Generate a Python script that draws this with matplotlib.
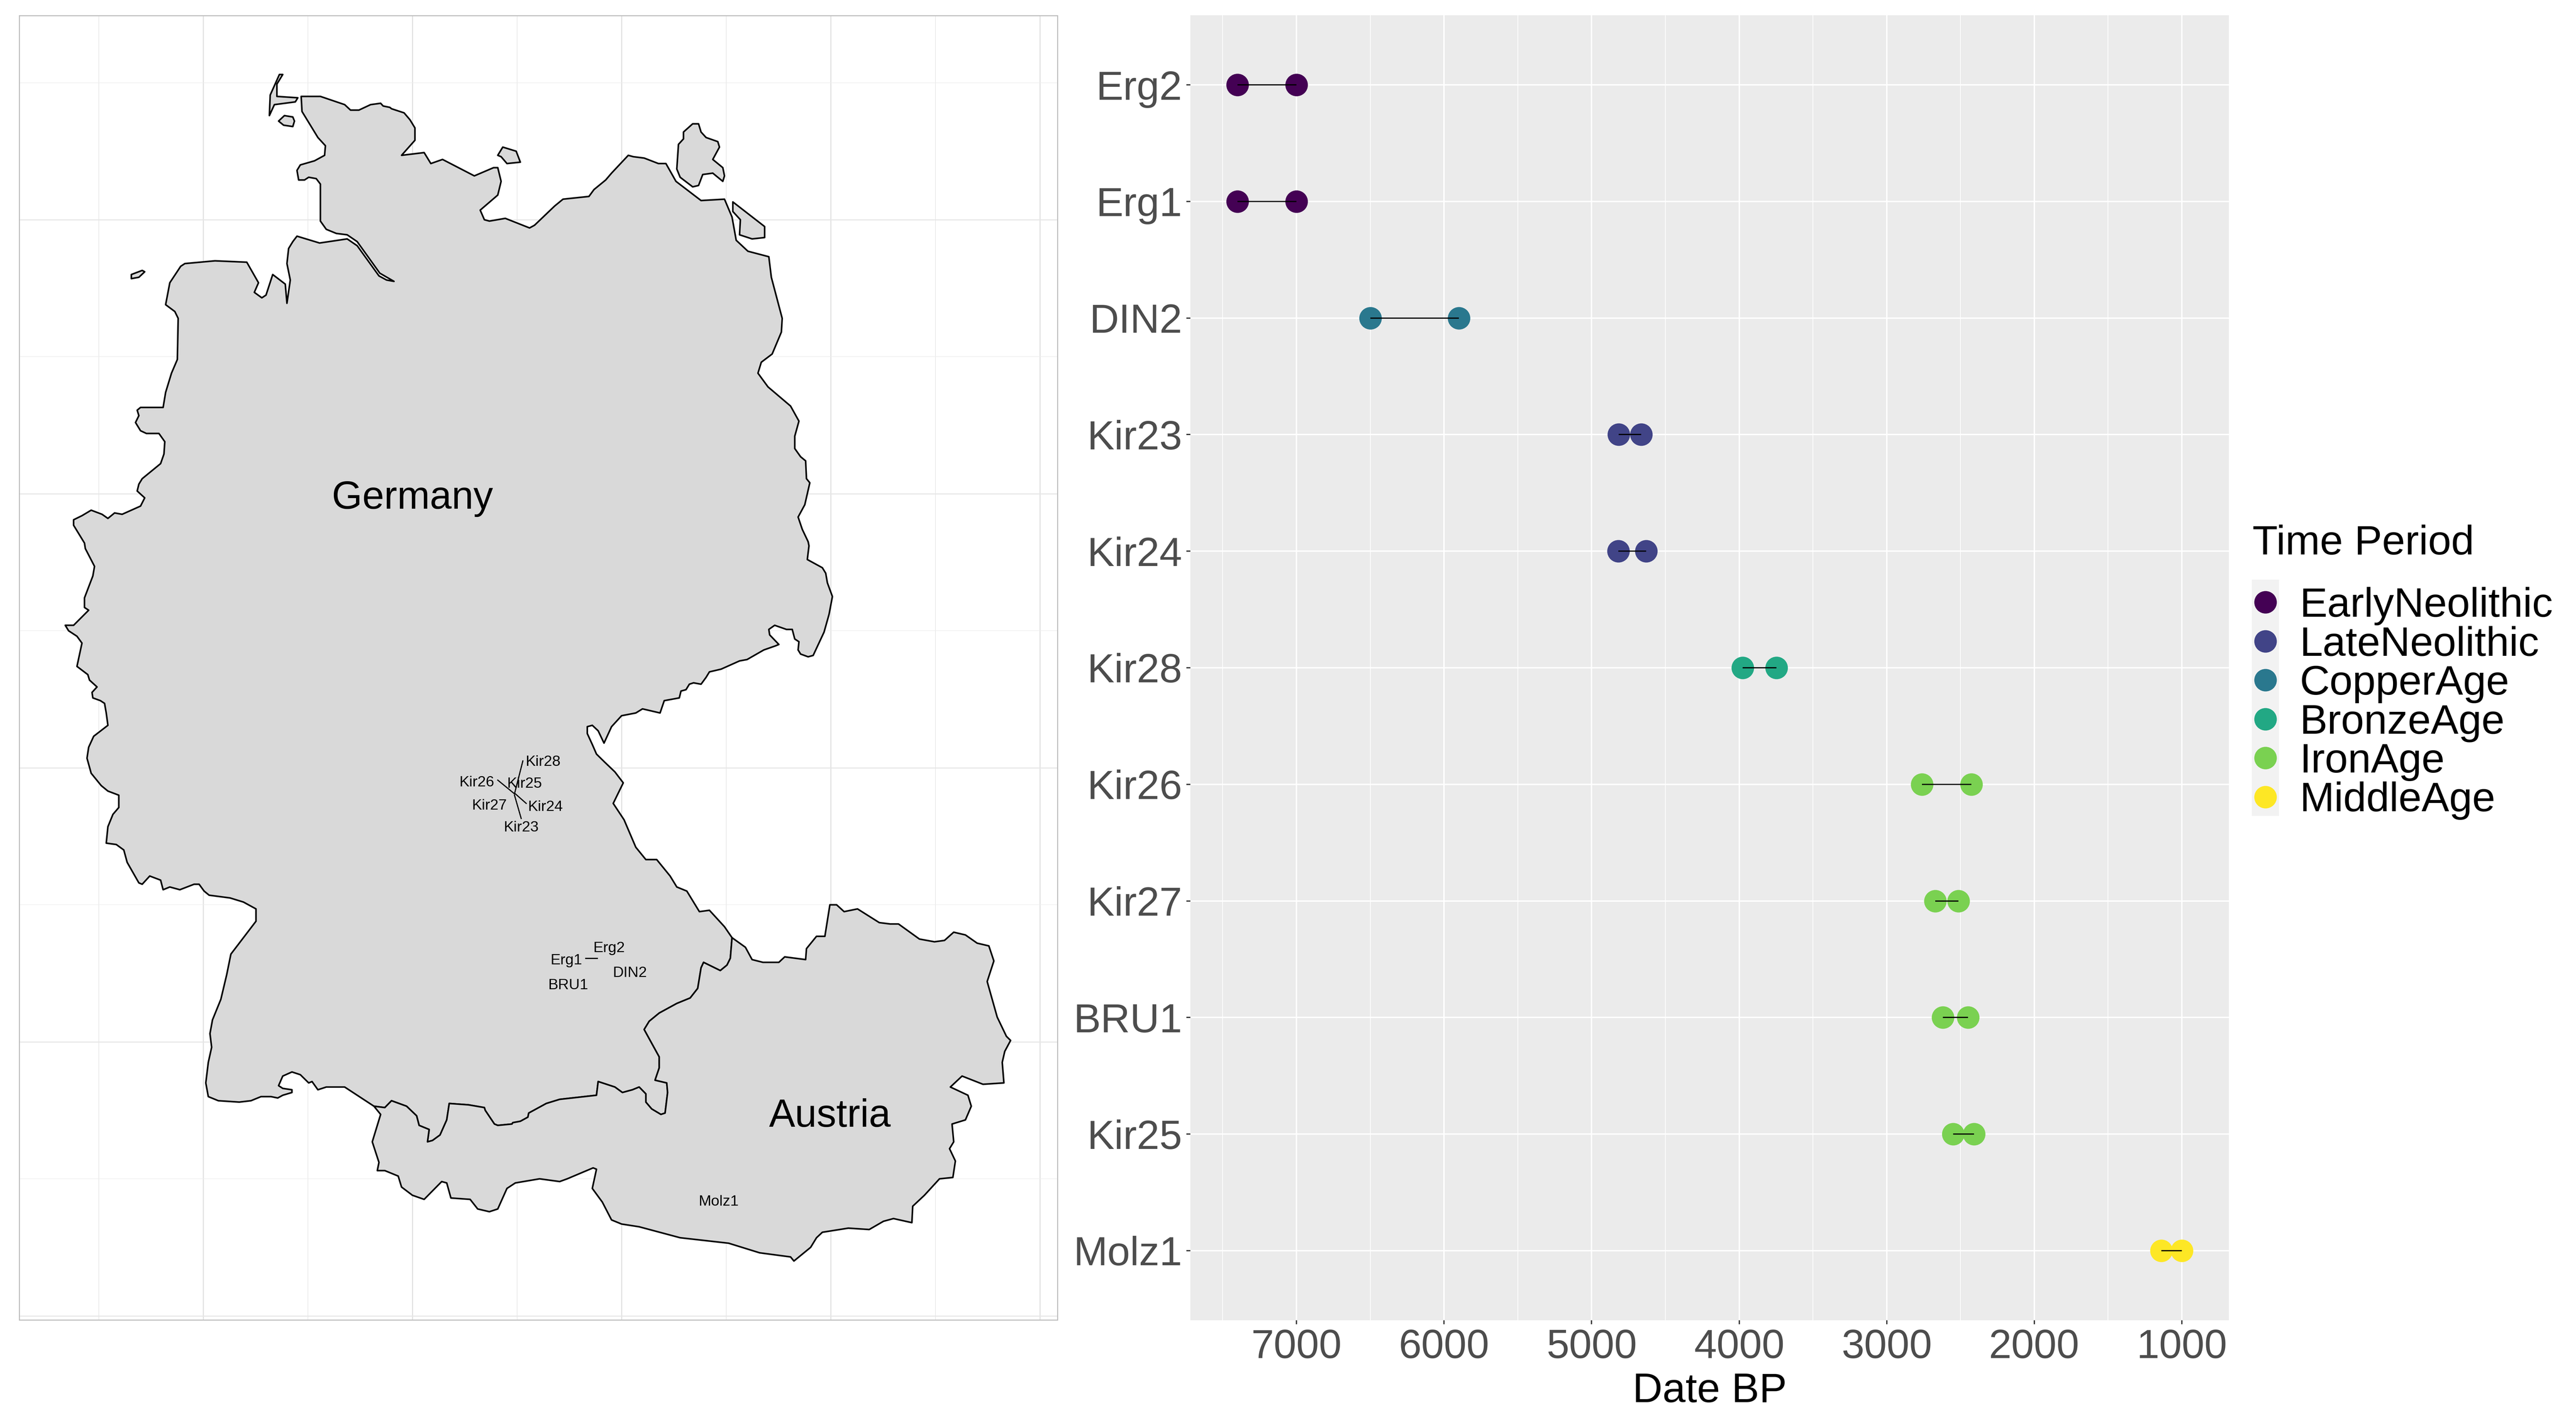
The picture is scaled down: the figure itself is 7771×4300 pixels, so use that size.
import matplotlib
matplotlib.use("Agg")
import matplotlib.pyplot as plt
from matplotlib.lines import Line2D
from matplotlib.patches import Rectangle

plt.rcParams["font.family"] = ["Liberation Sans", "DejaVu Sans"]

W = 7771
H = 4300
DPI = 300

# dating ranges, top row first
samples = ["Erg2", "Erg1", "DIN2", "Kir23", "Kir24", "Kir28", "Kir26", "Kir27", "BRU1", "Kir25", "Molz1"]
date_old = [7400, 7400, 6500, 4817, 4820, 3976, 2761, 2672, 2619, 2551, 1139]
date_young = [7000, 7000, 5900, 4665, 4631, 3748, 2427, 2513, 2450, 2409, 1000]
sample_period = ["EarlyNeolithic", "EarlyNeolithic", "CopperAge", "LateNeolithic", "LateNeolithic", "BronzeAge",
	"IronAge", "IronAge", "IronAge", "IronAge", "MiddleAge"]

periods = ["EarlyNeolithic", "LateNeolithic", "CopperAge", "BronzeAge", "IronAge", "MiddleAge"]
period_colors = ["#440154", "#414487", "#2A788E", "#22A884", "#7AD151", "#FDE725"]

date_ticks = [7000, 6000, 5000, 4000, 3000, 2000, 1000]
date_minor = [7500, 6500, 5500, 4500, 3500, 2500, 1500]

# site labels on the map: name, lon, lat
label_names = ["Kir28", "Kir25", "Kir26", "Kir27", "Kir24", "Kir23", "Erg2", "Erg1", "DIN2", "BRU1", "Molz1"]
label_lon = [11.56, 11.34, 10.77, 10.92, 11.59, 11.30, 12.35, 11.84, 12.60, 11.86, 13.66]
label_lat = [50.042, 49.882, 49.892, 49.722, 49.712, 49.562, 48.682, 48.592, 48.502, 48.412, 46.832]

# repel segments as lon1, lat1, lon2, lat2
site_links = [
	(11.32, 50.05, 11.22, 49.81),
	(11.02, 49.91, 11.22, 49.81),
	(11.36, 49.74, 11.23, 49.81),
	(11.30, 49.63, 11.22, 49.80),
	(12.07, 48.61, 12.21, 48.61),
]

map_major_lon = [7.5, 10, 12.5, 15, 17.5]
map_minor_lon = [6.25, 8.75, 11.25, 13.75, 16.25]
map_major_lat = [46, 48, 50, 52, 54]
map_minor_lat = [47, 49, 51, 53, 55]

# outlines as lon, lat
ger_north_east = [
	(8.67, 54.90), (8.90, 54.90), (9.19, 54.84), (9.26, 54.80), (9.36, 54.80), (9.50, 54.84), (9.62, 54.85),
	(9.65, 54.83), (9.73, 54.82), (9.75, 54.81), (9.90, 54.78), (9.97, 54.73), (10.03, 54.67), (10.03, 54.58),
	(9.87, 54.47), (10.14, 54.49), (10.22, 54.41), (10.36, 54.44), (10.74, 54.32), (10.97, 54.38), (11.02, 54.38),
	(11.06, 54.28), (11.02, 54.18), (10.81, 54.07), (10.86, 54.00), (10.92, 53.99), (11.11, 54.01), (11.40, 53.94),
	(11.46, 53.96), (11.70, 54.10), (11.80, 54.15), (12.11, 54.17), (12.17, 54.22), (12.31, 54.29), (12.38, 54.34),
	(12.58, 54.47), (12.64, 54.46), (12.77, 54.45), (12.94, 54.41), (13.03, 54.41), (13.15, 54.28), (13.45, 54.14),
	(13.73, 54.15), (13.82, 54.02), (13.87, 53.85), (14.01, 53.77), (14.26, 53.73), (14.29, 53.58), (14.42, 53.28),
	(14.41, 53.18), (14.30, 53.02), (14.17, 52.96), (14.13, 52.88), (14.25, 52.78), (14.52, 52.64), (14.62, 52.53),
	(14.57, 52.42), (14.57, 52.33), (14.64, 52.27), (14.70, 52.24), (14.71, 52.11), (14.75, 52.08), (14.69, 51.92),
	(14.61, 51.83), (14.66, 51.74), (14.73, 51.65), (14.74, 51.62), (14.72, 51.52), (14.90, 51.46), (14.94, 51.42),
	(14.96, 51.35), (15.02, 51.25), (14.98, 51.12), (14.92, 50.99), (14.79, 50.82), (14.73, 50.81), (14.64, 50.83),
	(14.61, 50.86), (14.62, 50.92), (14.57, 50.94), (14.54, 51.01), (14.47, 51.01), (14.33, 51.04), (14.26, 51.01),
	(14.27, 50.97), (14.38, 50.90), (14.34, 50.89), (14.20, 50.86), (14.00, 50.79), (13.91, 50.78), (13.69, 50.72),
	(13.55, 50.70), (13.51, 50.66), (13.45, 50.61), (13.36, 50.62), (13.31, 50.61), (13.27, 50.57), (13.21, 50.56),
	(13.19, 50.51), (13.01, 50.49), (12.96, 50.40), (12.75, 50.43), (12.67, 50.40), (12.50, 50.38), (12.38, 50.30),
	(12.29, 50.18), (12.22, 50.27), (12.15, 50.31), (12.09, 50.30), (12.09, 50.25), (12.15, 50.17), (12.20, 50.10),
	(12.30, 50.04), (12.42, 49.97), (12.52, 49.89), (12.40, 49.74), (12.53, 49.62), (12.67, 49.42), (12.79, 49.33),
	(12.92, 49.33), (13.08, 49.21), (13.16, 49.13), (13.28, 49.10), (13.43, 48.95), (13.55, 48.96), (13.73, 48.84),
	(13.82, 48.76),
]

ger_aut_border = [
	(13.80, 48.61), (13.76, 48.56), (13.68, 48.52), (13.48, 48.58), (13.45, 48.54), (13.41, 48.39), (13.32, 48.32),
	(13.16, 48.28), (12.95, 48.21), (12.83, 48.15), (12.77, 48.09), (12.95, 47.89), (12.95, 47.81), (12.90, 47.72),
	(13.04, 47.70), (13.05, 47.63), (13.02, 47.48), (12.97, 47.47), (12.86, 47.51), (12.79, 47.56), (12.79, 47.62),
	(12.71, 47.67), (12.63, 47.65), (12.51, 47.63), (12.42, 47.67), (12.22, 47.71), (12.20, 47.61), (11.76, 47.58),
	(11.60, 47.55), (11.39, 47.48), (11.38, 47.45), (11.29, 47.42), (11.20, 47.41), (11.19, 47.40), (11.02, 47.39),
	(10.98, 47.40), (10.87, 47.50), (10.86, 47.52), (10.67, 47.54), (10.44, 47.55), (10.41, 47.43), (10.33, 47.32),
	(10.24, 47.28), (10.18, 47.27), (10.20, 47.36), (10.08, 47.39), (10.05, 47.46), (9.93, 47.53), (9.75, 47.57),
	(9.67, 47.52), (9.54, 47.53),
]

ger_south_west = [
	(9.19, 47.67), (8.97, 47.67), (8.87, 47.65), (8.80, 47.71), (8.76, 47.70), (8.66, 47.76), (8.56, 47.78),
	(8.45, 47.75), (8.40, 47.68), (8.45, 47.66), (8.56, 47.65), (8.56, 47.63), (8.45, 47.61), (8.39, 47.59),
	(8.31, 47.60), (8.19, 47.60), (8.07, 47.57), (7.93, 47.56), (7.68, 47.57), (7.56, 47.60), (7.53, 47.70),
	(7.56, 47.85), (7.60, 47.96), (7.58, 48.06), (7.61, 48.16), (7.71, 48.31), (7.78, 48.49), (7.83, 48.64),
	(8.13, 48.88), (8.13, 48.97), (7.98, 49.02), (7.82, 49.05), (7.57, 49.07), (7.51, 49.10), (7.45, 49.15),
	(7.39, 49.15), (7.22, 49.11), (7.10, 49.13), (7.02, 49.11), (6.99, 49.18), (6.86, 49.21), (6.77, 49.15),
	(6.73, 49.16), (6.59, 49.31), (6.55, 49.40), (6.46, 49.44), (6.34, 49.45), (6.36, 49.57), (6.42, 49.66),
	(6.49, 49.71), (6.49, 49.80), (6.36, 49.83), (6.28, 49.87), (6.16, 49.96), (6.11, 50.07), (6.13, 50.15),
	(6.19, 50.23), (6.36, 50.31), (6.34, 50.40), (6.32, 50.47), (6.27, 50.49), (6.18, 50.51), (6.17, 50.55),
	(6.23, 50.59), (6.14, 50.64), (6.12, 50.68), (5.99, 50.74), (6.05, 50.91), (5.99, 50.96), (5.89, 51.00),
	(5.85, 51.04), (5.95, 51.04), (6.13, 51.15), (6.08, 51.17), (6.08, 51.24), (6.18, 51.40), (6.20, 51.47),
	(6.09, 51.60), (6.08, 51.64), (5.95, 51.77), (5.95, 51.81), (6.05, 51.84), (6.16, 51.88), (6.29, 51.85),
	(6.36, 51.82), (6.44, 51.86), (6.53, 51.85), (6.75, 51.91), (6.80, 51.97), (6.71, 52.02), (6.73, 52.07),
	(6.77, 52.11), (6.99, 52.22), (7.03, 52.29), (7.04, 52.38), (6.97, 52.44), (6.82, 52.44), (6.75, 52.46),
	(6.69, 52.52), (6.73, 52.57), (6.71, 52.61), (6.75, 52.63), (7.02, 52.63), (7.05, 52.74), (7.12, 52.88),
	(7.19, 52.98), (7.20, 53.28), (7.16, 53.33), (7.05, 53.38), (7.10, 53.54), (7.23, 53.66), (7.28, 53.68),
	(7.64, 53.70), (8.02, 53.69), (8.16, 53.54), (8.11, 53.47), (8.20, 53.43), (8.25, 53.45), (8.33, 53.60),
	(8.48, 53.53), (8.50, 53.39), (8.54, 53.56), (8.50, 53.68), (8.52, 53.79), (8.57, 53.84), (8.62, 53.88),
	(8.89, 53.83), (9.22, 53.86), (9.34, 53.81), (9.60, 53.59), (9.69, 53.56), (9.78, 53.55), (9.61, 53.61),
	(9.34, 53.84), (9.22, 53.89), (9.09, 53.90), (8.97, 53.93), (8.90, 53.99), (8.90, 54.26), (8.85, 54.30),
	(8.76, 54.31), (8.71, 54.29), (8.64, 54.29), (8.62, 54.36), (8.66, 54.40), (8.83, 54.43), (8.95, 54.47),
	(8.96, 54.54), (8.87, 54.60), (8.76, 54.71), (8.68, 54.79),
]

aut_rim = [
	(13.98, 48.69), (14.06, 48.60), (14.19, 48.58), (14.38, 48.58), (14.45, 48.62), (14.70, 48.60), (14.71, 48.68),
	(14.83, 48.77), (14.93, 48.77), (14.99, 49.00), (15.07, 49.00), (15.16, 48.95), (15.32, 48.97), (15.58, 48.87),
	(15.71, 48.86), (15.81, 48.86), (16.06, 48.75), (16.24, 48.73), (16.36, 48.74), (16.47, 48.80), (16.61, 48.78),
	(16.75, 48.72), (16.89, 48.70), (16.95, 48.59), (16.87, 48.44), (16.99, 48.18), (17.10, 48.04), (17.15, 48.01),
	(17.08, 47.93), (17.05, 47.85), (17.07, 47.70), (16.82, 47.69), (16.57, 47.75), (16.43, 47.67), (16.64, 47.61),
	(16.68, 47.53), (16.61, 47.43), (16.45, 47.40), (16.47, 47.27), (16.42, 47.22), (16.49, 47.13), (16.46, 47.01),
	(16.30, 47.00), (16.12, 46.88), (15.98, 46.80), (15.97, 46.68), (15.75, 46.71), (15.63, 46.69), (15.46, 46.63),
	(15.21, 46.64), (14.90, 46.61), (14.83, 46.57), (14.76, 46.50), (14.56, 46.40), (14.52, 46.43), (14.15, 46.46),
	(13.78, 46.53), (13.49, 46.55), (13.20, 46.57), (12.71, 46.65), (12.50, 46.67), (12.38, 46.70), (12.27, 46.83),
	(12.15, 46.93), (12.20, 47.07), (12.16, 47.08), (11.85, 47.00), (11.76, 46.98), (11.52, 47.00), (11.23, 46.97),
	(11.13, 46.93), (11.02, 46.78), (10.92, 46.76), (10.78, 46.78), (10.69, 46.85), (10.46, 46.86), (10.41, 46.97),
	(10.35, 46.98), (10.14, 46.85), (10.00, 46.88), (9.87, 46.94), (9.83, 47.02), (9.67, 47.06), (9.58, 47.06),
	(9.60, 47.12), (9.52, 47.27), (9.62, 47.47),
]

islands = [
	[(8.41, 55.06), (8.45, 55.06), (8.38, 54.99), (8.38, 54.90), (8.63, 54.89), (8.60, 54.86), (8.35, 54.84),
		(8.29, 54.76), (8.30, 54.91)],
	[(8.40, 54.72), (8.47, 54.76), (8.57, 54.75), (8.59, 54.72), (8.57, 54.68), (8.46, 54.69)],
	[(11.08, 54.53), (11.24, 54.50), (11.29, 54.42), (11.13, 54.41), (11.06, 54.46), (11.02, 54.47)],
	[(13.35, 54.70), (13.42, 54.70), (13.45, 54.64), (13.51, 54.60), (13.65, 54.57), (13.67, 54.53), (13.59, 54.44),
		(13.71, 54.38), (13.73, 54.32), (13.71, 54.28), (13.59, 54.34), (13.47, 54.33), (13.42, 54.25), (13.35, 54.24),
		(13.20, 54.31), (13.16, 54.37), (13.18, 54.55), (13.24, 54.59), (13.24, 54.64)],
	[(13.83, 54.13), (14.21, 53.95), (14.21, 53.87), (14.06, 53.86), (13.91, 53.89), (13.92, 54.00), (13.83, 54.06)],
	[(6.64, 53.60), (6.77, 53.63), (6.80, 53.62), (6.73, 53.58), (6.64, 53.57)],
]

def panel(fig, left, top, right, bottom):
	return fig.add_axes([left / W, 1 - bottom / H, (right - left) / W, (bottom - top) / H])

def draw_land(ax, points):
	lon, lat = zip(*points)
	ax.fill(lon, lat, facecolor="#D9D9D9", edgecolor="black", linewidth=1.15, joinstyle="round", zorder=2)

fig = plt.figure(figsize=(W / DPI, H / DPI), dpi=DPI, facecolor="white")

# map panel
ax_map = panel(fig, 58, 47, 3190, 3983)
ax_map.set_xlim(5.30, 17.71)
ax_map.set_ylim(45.97, 55.49)
ax_map.set_xticks(map_major_lon)
ax_map.set_xticks(map_minor_lon, minor=True)
ax_map.set_yticks(map_major_lat)
ax_map.set_yticks(map_minor_lat, minor=True)
ax_map.tick_params(which="both", length=0, labelbottom=False, labelleft=False)
ax_map.grid(True, axis="x", which="major", color="#E0E0E0", linewidth=0.75, zorder=0)
ax_map.grid(True, axis="x", which="minor", color="#E4E4E4", linewidth=0.4, zorder=0)
ax_map.grid(True, axis="y", which="major", color="#E6E6E6", linewidth=0.75, zorder=0)
ax_map.grid(True, axis="y", which="minor", color="#EEEEEE", linewidth=0.4, zorder=0)
ax_map.set_axisbelow(True)
for spine in ax_map.spines.values():
	spine.set_color("#BBBBBB")
	spine.set_linewidth(0.7)

draw_land(ax_map, ger_north_east + ger_aut_border + ger_south_west)
draw_land(ax_map, [(13.82, 48.76)] + aut_rim + [(9.54, 47.53)] + ger_aut_border[::-1])
for island in islands:
	draw_land(ax_map, island)

for lon1, lat1, lon2, lat2 in site_links:
	ax_map.plot([lon1, lon2], [lat1, lat2], color="black", linewidth=0.85, zorder=3)
for name, lon, lat in zip(label_names, label_lon, label_lat):
	ax_map.text(lon, lat, name, fontsize=10.9, ha="center", va="center", color="black", zorder=4)
ax_map.text(10.0, 51.965, "Germany", fontsize=28.4, ha="center", va="center", color="black", zorder=4)
ax_map.text(14.99, 47.455, "Austria", fontsize=28.4, ha="center", va="center", color="black", zorder=4)

# date panel
ax = panel(fig, 3591, 46, 6724, 3984)
ax.set_facecolor("#EBEBEB")
ax.set_xlim(7719, 681)
ax.set_ylim(len(samples) - 1 + 0.597, -0.597)
ax.set_xticks(date_ticks)
ax.set_xticks(date_minor, minor=True)
ax.set_yticks(range(len(samples)))
ax.set_yticklabels(samples)
ax.tick_params(axis="both", which="major", labelsize=29.5, labelcolor="#4D4D4D", color="#333333", length=2.9, width=0.9)
ax.tick_params(axis="y", pad=3)
ax.tick_params(axis="x", pad=3)
ax.tick_params(which="minor", length=0)
ax.grid(True, which="major", color="white", linewidth=1.0, zorder=0)
ax.grid(True, which="minor", color="white", linewidth=0.5, zorder=0)
ax.set_axisbelow(True)
for spine in ax.spines.values():
	spine.set_visible(False)
ax.set_xlabel("Date BP", fontsize=30, color="black", labelpad=4.5)

for i, name in enumerate(samples):
	color = period_colors[periods.index(sample_period[i])]
	ax.scatter([date_old[i], date_young[i]], [i, i], s=266, color=color, linewidths=0, zorder=3)
	ax.plot([date_old[i], date_young[i]], [i, i], color="black", linewidth=0.85, solid_capstyle="butt", zorder=4)

# legend
fig.add_artist(Rectangle((6793 / W, 1 - 2462 / H), 82 / W, 713 / H, transform=fig.transFigure,
	facecolor="#F2F2F2", edgecolor="none", zorder=1))
handles = [Line2D([], [], linestyle="none", marker="o", markersize=16.3, markerfacecolor=c, markeredgewidth=0)
	for c in period_colors]
fig.legend(handles, periods, loc="upper left", bbox_to_anchor=(6793 / W, 1 - 1771 / H), bbox_transform=fig.transFigure,
	frameon=False, fontsize=30, borderpad=0, borderaxespad=0, labelspacing=0.012, handlelength=0.656, handletextpad=0.5)
fig.text(6795 / W, 1 - 1673 / H, "Time Period", fontsize=30, color="black", ha="left", va="baseline")

fig.savefig("out.png", dpi=DPI, facecolor="white")
